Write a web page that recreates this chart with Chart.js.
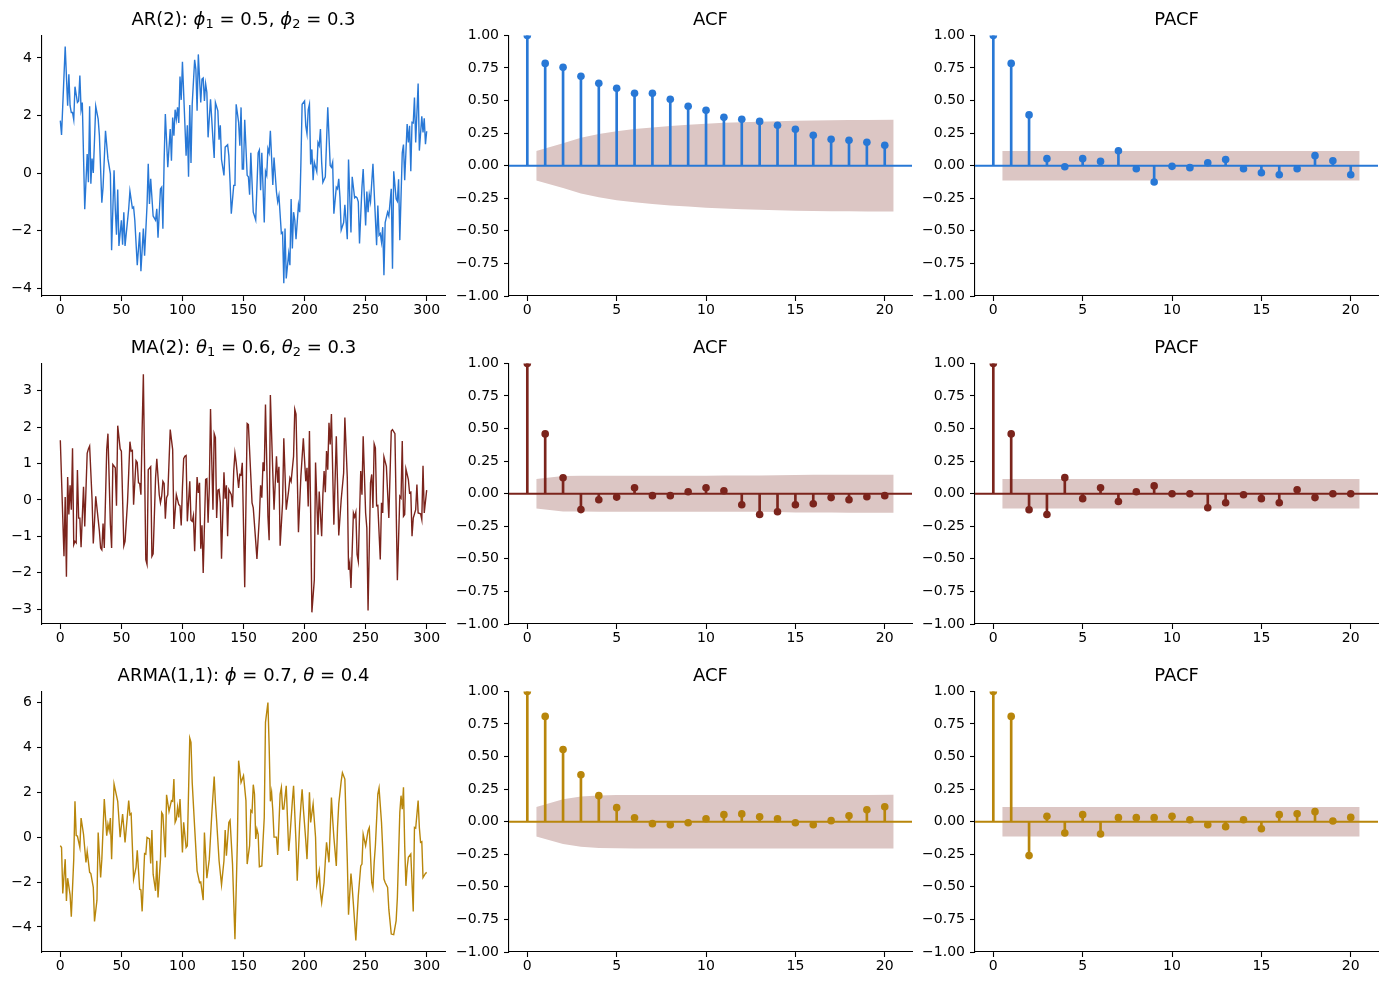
<!DOCTYPE html>
<html>
<head>
<meta charset="utf-8">
<script src="https://cdn.jsdelivr.net/npm/chart.js@4.4.1/dist/chart.umd.min.js"></script>
<style>
  body { margin: 0; background: #fff; width: 1387px; height: 986px; position: relative; overflow: hidden; font-family: 'DejaVu Sans'; }
  canvas { position: absolute; }
  .ttl { position: absolute; height: 22px; line-height: 22px; font-size: 18px; text-align: center; color: #000; white-space: nowrap; }
  .ttl sub { font-size: 0.72em; vertical-align: -0.22em; line-height: 0; }
</style>
</head>
<body>
<script>
// AR(2) series
const arT = [0,1,4,6,7,8,9,10,11,12,14,15,16,17,18,20,22,23,24,25,26,27,29,31,32,34,35,37,39,41,42,44,45,46,47,48,50,51,52,53,56,57,59,60,61,63,65,66,68,69,71,72,73,74,76,78,79,80,82,83,84,85,86,88,90,91,92,93,94,95,96,97,98,99,100,102,103,104,105,106,107,108,110,111,112,113,115,116,117,118,119,120,121,123,125,126,127,129,130,131,132,134,135,137,138,139,140,142,143,144,146,147,148,149,150,151,153,154,155,156,158,159,160,162,163,164,165,167,168,169,170,171,172,174,175,177,178,179,181,182,183,184,185,187,188,189,190,191,192,193,195,196,197,198,200,201,202,203,204,205,206,207,208,210,211,212,213,214,215,217,219,221,222,223,224,226,227,228,229,230,232,233,235,236,238,239,241,242,243,244,245,247,248,250,251,252,253,254,256,257,259,260,261,262,263,264,265,266,268,269,271,272,273,275,276,277,278,280,281,282,284,285,286,287,288,289,290,291,293,294,296,297,298,299,300];
const arY = [1.82,1.32,4.39,2.34,3.43,2.34,2.1,2.1,1.85,3.0,2.45,2.5,3.39,2.2,2.45,-1.26,0.66,-0.32,2.32,-0.37,0.5,0.0,2.32,1.87,1.3,-1.03,-0.49,1.47,0.49,-0.03,-2.68,0.1,-1.24,-2.14,-0.57,-2.53,-1.64,-2.49,-1.36,-2.53,-1.24,-0.63,-1.22,-1.18,-1.64,-3.2,-2.06,-3.41,-1.93,-2.87,-1.13,0.32,-1.07,-0.2,-1.49,-1.64,-1.24,-2.25,-0.55,-0.49,-1.93,0.43,2.05,0.2,1.53,0.43,1.93,1.3,2.2,1.87,2.28,1.74,3.35,2.54,3.86,1.7,0.6,1.66,-0.13,2.36,0.35,2.39,3.93,3.6,2.16,4.12,2.45,3.26,3.3,2.5,3.1,2.8,1.24,2.56,1.16,0.52,2.45,2.16,1.16,1.66,0.47,-0.08,0.9,0.98,0.6,-0.32,-1.41,-0.43,-0.43,2.39,1.76,0.95,2.28,0.14,0.14,1.85,-0.08,-0.13,-0.75,0.7,-1.36,-1.49,-1.63,0.7,0.8,-0.6,0.7,-1.72,0.06,-0.08,0.85,0.7,1.47,-0.41,0.54,-0.66,-1.0,-0.78,-2.1,-2.06,-3.83,-1.93,-3.66,-2.8,-3.2,-0.9,-2.62,-1.36,-1.63,-2.3,-1.1,-1.36,0.32,2.39,2.5,1.64,1.36,2.2,2.39,0.3,0.82,-0.25,0.37,0.05,1.06,0.95,1.53,0.37,-0.32,-0.13,2.28,0.26,0.2,0.37,-1.41,-0.49,-0.55,-0.2,-0.86,-1.98,-1.72,-1.1,-2.3,0.47,-2.06,-0.13,-0.86,-0.82,-0.86,-1.0,-2.45,-0.49,0.14,-1.82,-0.64,-1.36,-0.75,-1.0,0.32,-0.64,-2.51,-1.13,-2.16,-2.1,-2.4,-1.88,-3.55,-1.72,-1.36,-1.49,-0.55,-3.32,0.06,-0.9,-0.98,-0.22,-2.33,0.7,0.99,-0.25,1.7,1.06,1.64,0.06,1.76,1.74,2.62,1.06,3.11,0.78,1.97,1.41,1.9,1.0,1.45];

// MA(2) series
const maT = [0,3,4,5,6,7,8,9,10,11,12,13,14,15,16,17,19,20,22,23,24,26,27,28,29,31,32,33,34,35,36,38,39,41,42,43,45,46,47,49,50,52,53,55,56,57,58,59,60,62,63,64,65,66,67,68,70,71,72,74,75,76,78,79,81,82,83,84,85,86,87,88,90,92,93,95,97,98,99,100,101,102,103,104,106,107,108,109,110,112,113,114,115,116,117,119,120,121,122,123,125,126,127,128,129,130,131,132,134,135,136,137,138,140,141,142,143,144,146,147,148,149,151,153,154,157,158,160,161,163,164,165,166,167,168,170,171,172,174,175,177,178,179,180,182,183,185,187,188,189,191,192,193,195,197,199,201,202,203,204,205,206,208,209,211,212,214,215,216,217,218,219,220,221,222,224,226,227,228,230,232,233,235,236,237,238,240,241,242,243,244,246,247,248,250,251,252,254,255,256,257,258,259,260,262,263,264,265,267,269,271,272,274,276,278,279,280,281,282,283,285,286,287,288,289,291,292,293,295,296,297,298,300];
const maY = [1.64,-1.55,0.08,-2.11,0.63,-0.4,0.4,-0.27,1.42,-1.23,-1.14,-1.18,0.82,-0.5,-0.5,-1.3,0.36,-0.73,1.28,1.4,1.48,0.01,-1.2,-0.59,0.1,-0.54,-0.86,-1.32,-1.37,-0.65,-1.32,1.38,1.82,-0.68,-1.32,0.97,0.88,-0.16,2.04,1.4,1.34,-1.26,-1.14,-0.08,0.74,1.6,1.34,1.36,-0.13,1.08,1.03,0.47,0.45,0.14,1.93,3.45,-1.64,-1.77,0.83,0.91,-1.55,-1.48,0.6,1.13,0.14,-0.08,0.1,0.51,0.45,-0.52,0.06,0.14,1.93,1.38,-0.8,0.14,-0.13,-0.16,-0.7,0.33,1.13,1.2,1.22,-0.59,0.51,-0.56,-0.59,-0.43,-1.41,0.63,0.19,0.47,-1.34,-0.7,-2.01,0.56,0.58,-0.63,0.33,2.5,-0.27,1.82,1.71,-0.5,0.27,0.29,-0.08,-1.62,0.76,0.03,0.4,-1.0,0.28,0.14,-0.2,0.79,1.28,1.03,0.33,0.7,0.68,1.02,-2.4,2.1,2.07,-0.08,-0.22,-1.14,-1.62,-0.47,0.4,0.06,1.03,0.79,2.62,-0.45,-1.11,2.88,0.74,-0.27,1.2,0.47,0.91,-1.26,-0.08,1.69,-0.27,0.27,0.6,0.51,1.2,2.49,2.36,-0.89,0.65,1.69,0.51,0.88,-0.18,1.89,-0.36,-3.09,-2.19,1.03,-0.96,0.23,-1.0,0.14,0.79,0.21,1.34,0.83,2.12,1.52,2.36,-0.68,1.75,0.42,-0.98,0.01,0.74,2.26,0.6,-1.92,-1.73,-2.42,-0.36,-0.47,-0.34,-1.5,-1.69,0.79,0.14,1.75,-0.36,-0.77,-3.04,0.47,0.7,-0.22,1.54,1.43,-0.16,-0.15,-1.64,-0.08,-0.36,1.18,0.92,-0.5,1.89,1.93,1.82,-2.21,0.1,0.05,1.62,-0.45,-0.4,0.85,0.56,0.19,0.21,-1.0,-0.5,-0.27,0.42,-0.36,-0.38,-0.54,0.94,-0.36,0.27];

// ARMA(1,1) series
const armaT = [0,1,2,4,5,6,8,9,11,12,13,14,16,17,19,21,22,24,25,27,28,30,31,33,34,36,38,39,40,41,42,44,46,47,49,51,52,53,56,57,58,60,62,63,65,66,67,69,70,71,73,74,75,76,78,79,80,82,83,84,86,87,89,90,91,92,93,94,95,96,97,98,100,101,103,104,106,107,108,110,112,114,115,117,118,120,122,124,126,127,128,130,132,134,135,136,138,139,141,143,145,146,148,150,152,153,155,156,157,158,159,160,161,162,163,165,166,167,168,170,171,172,173,174,175,177,178,180,181,182,183,185,187,188,190,191,193,194,196,197,198,199,201,202,203,204,205,207,209,210,212,213,214,216,217,218,220,222,223,224,226,227,228,230,231,233,234,235,236,238,239,240,242,243,244,246,247,248,250,252,253,255,256,257,258,260,261,263,264,265,266,268,269,271,273,275,276,278,279,280,281,282,283,284,285,287,289,290,291,293,294,295,296,297,299,300];
const armaY = [-0.38,-0.46,-2.51,-0.98,-2.84,-1.83,-2.57,-3.55,-0.98,1.6,0.07,0.05,-0.46,0.85,0.13,-1.13,-0.64,-1.57,-1.62,-2.24,-3.76,-2.81,0.21,-1.8,-0.98,1.7,0.07,0.58,0.3,0.85,-0.98,2.37,1.85,1.6,0.0,1.03,0.43,-0.23,1.63,1.0,1.05,-1.87,-1.35,-0.58,-2.32,-2.35,-3.31,-0.73,-0.76,-0.01,-0.08,-1.17,0.32,-1.65,-2.39,-1.05,-2.69,-0.98,1.1,1.0,-0.9,1.89,1.15,1.4,1.63,1.6,2.59,0.66,0.8,1.33,0.88,1.7,-0.68,0.66,-0.46,-0.38,4.42,4.23,2.44,0.43,-1.5,-2.02,-2.0,-2.81,0.21,-1.83,-0.98,1.0,2.7,1.55,0.73,-1.05,-2.12,-1.05,0.32,-0.83,0.66,0.76,-1.2,-4.55,-0.16,3.41,2.44,2.74,1.63,-1.2,-0.38,1.19,1.12,2.34,1.92,-0.08,0.36,0.13,-1.32,-1.28,-0.16,0.88,5.12,6.0,4.08,1.6,2.0,1.19,0.0,0.0,-0.79,1.92,2.21,1.25,1.25,2.29,-0.61,0.0,1.6,2.29,-0.23,-1.94,0.6,1.4,2.14,1.29,-0.16,-0.98,0.4,2.0,0.66,1.48,0.0,-2.09,-1.5,-2.47,-2.91,-2.02,-1.05,-0.23,-1.12,1.77,0.8,0.0,-1.28,0.43,1.48,2.5,2.87,2.59,0.73,-1.05,-3.46,-1.62,-2.24,-2.99,-4.6,-3.58,-2.62,-1.28,-1.2,0.13,-0.38,0.29,0.43,-2.02,-2.27,-1.13,-0.38,1.92,2.19,0.66,-0.53,-1.87,-2.02,-2.24,-3.21,-4.32,-4.35,-3.72,-2.69,1.1,1.85,1.25,2.22,-0.38,-2.17,-1.35,-0.9,-0.75,-3.31,0.43,0.4,1.63,0.43,-0.23,-0.2,-1.8,-1.62,-1.57];

// lags and correlation values
const lags = [0,1,2,3,4,5,6,7,8,9,10,11,12,13,14,15,16,17,18,19,20];

const arAcf = [1,0.785,0.755,0.686,0.632,0.594,0.556,0.556,0.51,0.456,0.425,0.372,0.356,0.34,0.31,0.28,0.234,0.203,0.195,0.18,0.157];
const arPacf = [1,0.785,0.39,0.054,-0.008,0.054,0.033,0.115,-0.023,-0.125,-0.005,-0.015,0.023,0.048,-0.023,-0.054,-0.069,-0.023,0.077,0.038,-0.069];
const arAcfConf = [0.113,0.172,0.214,0.243,0.265,0.281,0.294,0.305,0.314,0.322,0.329,0.334,0.338,0.342,0.345,0.347,0.349,0.35,0.351,0.352];

const maAcf = [1,0.459,0.122,-0.122,-0.046,-0.026,0.046,-0.015,-0.015,0.015,0.046,0.023,-0.085,-0.16,-0.138,-0.085,-0.077,-0.03,-0.046,-0.023,-0.015];
const maPacf = [1,0.459,-0.123,-0.16,0.123,-0.038,0.046,-0.06,0.015,0.06,0.0,0.0,-0.108,-0.07,-0.008,-0.038,-0.07,0.03,-0.03,0.0,0.0];
const maAcfConf = [0.113,0.136,0.137,0.138,0.138,0.138,0.138,0.138,0.138,0.138,0.139,0.139,0.139,0.141,0.144,0.145,0.145,0.146,0.146,0.146];

const armaAcf = [1,0.808,0.554,0.36,0.2,0.108,0.03,-0.015,-0.023,-0.008,0.023,0.054,0.06,0.038,0.023,-0.008,-0.023,0.008,0.046,0.092,0.115];
const armaPacf = [1,0.808,-0.26,0.041,-0.087,0.054,-0.094,0.031,0.031,0.031,0.041,0.015,-0.023,-0.038,0.015,-0.054,0.054,0.061,0.077,0.005,0.033];
const armaAcfConf = [0.113,0.172,0.193,0.201,0.204,0.205,0.205,0.205,0.205,0.205,0.205,0.205,0.205,0.205,0.205,0.205,0.205,0.205,0.205,0.206];

const pacfConf = 0.113;

const blue = '#2878d6', red = '#7b241c', gold = '#b8860b';
const bandColor = '#dcc6c4';

Chart.defaults.font.family = 'DejaVu Sans';
Chart.defaults.font.size = 14;
Chart.defaults.color = '#000';

// panel geometry (plot areas)
const colL = [42, 509, 975];
const rowT = [34, 362, 690];
const W = 403, H = 262;
const PADL = 64, PADT = 12, PADR = 12, PADB = 32;

function minus(s) { return s.replace('-', '\u2212'); }

function axis(min, max, step, fmt, isY) {
    return {
        type: 'linear', min: min, max: max, offset: false,
        ticks: { stepSize: step, includeBounds: false, padding: isY ? 5 : 1, callback: fmt, maxRotation: 0, autoSkip: false },
        grid: { display: true, drawOnChartArea: false, drawTicks: true, tickLength: 5, tickWidth: 1.1, tickColor: '#000', offset: false },
        border: { display: true, color: '#000', width: 1.1 },
        afterFit: isY ? (s) => { s.width = PADL; } : (s) => { s.height = PADB; }
    };
}

function makeCanvas(col, row) {
    const c = document.createElement('canvas');
    c.width = W + PADL + PADR;
    c.height = H + PADT + PADB;
    c.style.left = (colL[col] - PADL) + 'px';
    c.style.top = (rowT[row] - PADT) + 'px';
    c.style.width = c.width + 'px';
    c.style.height = c.height + 'px';
    document.body.appendChild(c);
    return c;
}

function addTitle(col, row, html) {
    const d = document.createElement('div');
    d.className = 'ttl';
    d.style.left = colL[col] + 'px';
    d.style.width = W + 'px';
    d.style.top = (rowT[row] - 26) + 'px';
    d.innerHTML = html;
    document.body.appendChild(d);
}

const common = {
    responsive: false, animation: false, events: [],
    layout: { padding: { left: 0, top: PADT, right: PADR, bottom: 0 } },
    plugins: { legend: { display: false }, tooltip: { enabled: false }, title: { display: false } }
};

function seriesChart(col, row, t, y, color, yMin, yMax, yStep) {
    new Chart(makeCanvas(col, row), {
        type: 'line',
        data: {
            datasets: [{
                data: t.map((v, i) => ({ x: v, y: y[i] })),
                borderColor: color, borderWidth: 1.4, pointRadius: 0, tension: 0, fill: false
            }]
        },
        options: Object.assign({}, common, {
            scales: {
                x: axis(-15, 315, 50, (v) => minus(String(v)), false),
                y: axis(yMin, yMax, yStep, (v) => minus(String(v)), true)
            }
        })
    });
}

function corrChart(col, row, vals, conf, color) {
    const bandLags = lags.slice(1).map(Number);
    const bx = bandLags.slice();
    bx[0] -= 0.5;
    bx[bx.length - 1] += 0.5;
    const confAt = (i) => Array.isArray(conf) ? conf[i] : conf;
    new Chart(makeCanvas(col, row), {
        type: 'scatter',
        data: {
            datasets: [
                {
                    type: 'line', order: 5, clip: 0,
                    data: bx.map((x, i) => ({ x: x, y: confAt(i) })),
                    borderWidth: 0, pointRadius: 0, tension: 0,
                    backgroundColor: bandColor, fill: '+1'
                },
                {
                    type: 'line', order: 6, clip: 0,
                    data: bx.map((x, i) => ({ x: x, y: -confAt(i) })),
                    borderWidth: 0, pointRadius: 0, tension: 0, fill: false
                },
                {
                    type: 'bar', order: 3, clip: 0,
                    data: lags.map((k, i) => ({ x: k, y: [0, vals[i]] })),
                    backgroundColor: color, borderWidth: 0, barThickness: 2, grouped: false
                },
                {
                    type: 'line', order: 2, clip: 0,
                    data: [{ x: -1.025, y: 0 }, { x: 21.525, y: 0 }],
                    borderColor: color, borderWidth: 2, pointRadius: 0
                },
                {
                    type: 'scatter', order: 1, clip: 0,
                    data: lags.map((k, i) => ({ x: k, y: vals[i] })),
                    backgroundColor: color, borderWidth: 0, pointRadius: 3.8
                }
            ]
        },
        options: Object.assign({}, common, {
            scales: {
                x: axis(-1.025, 21.525, 5, (v) => minus(String(v)), false),
                y: axis(-1, 1, 0.25, (v) => minus(v.toFixed(2)), true)
            }
        })
    });
}

seriesChart(0, 0, arT, arY, blue, -4.27, 4.78, 2);
corrChart(1, 0, arAcf, arAcfConf, blue);
corrChart(2, 0, arPacf, pacfConf, blue);

seriesChart(0, 1, maT, maY, red, -3.41, 3.75, 1);
corrChart(1, 1, maAcf, maAcfConf, red);
corrChart(2, 1, maPacf, pacfConf, red);

seriesChart(0, 2, armaT, armaY, gold, -5.12, 6.5, 2);
corrChart(1, 2, armaAcf, armaAcfConf, gold);
corrChart(2, 2, armaPacf, pacfConf, gold);

addTitle(0, 0, 'AR(2): <i>ϕ</i><sub>1</sub> = 0.5, <i>ϕ</i><sub>2</sub> = 0.3');
addTitle(1, 0, 'ACF');
addTitle(2, 0, 'PACF');
addTitle(0, 1, 'MA(2): <i>θ</i><sub>1</sub> = 0.6, <i>θ</i><sub>2</sub> = 0.3');
addTitle(1, 1, 'ACF');
addTitle(2, 1, 'PACF');
addTitle(0, 2, 'ARMA(1,1): <i>ϕ</i> = 0.7, <i>θ</i> = 0.4');
addTitle(1, 2, 'ACF');
addTitle(2, 2, 'PACF');
</script>
</body>
</html>
